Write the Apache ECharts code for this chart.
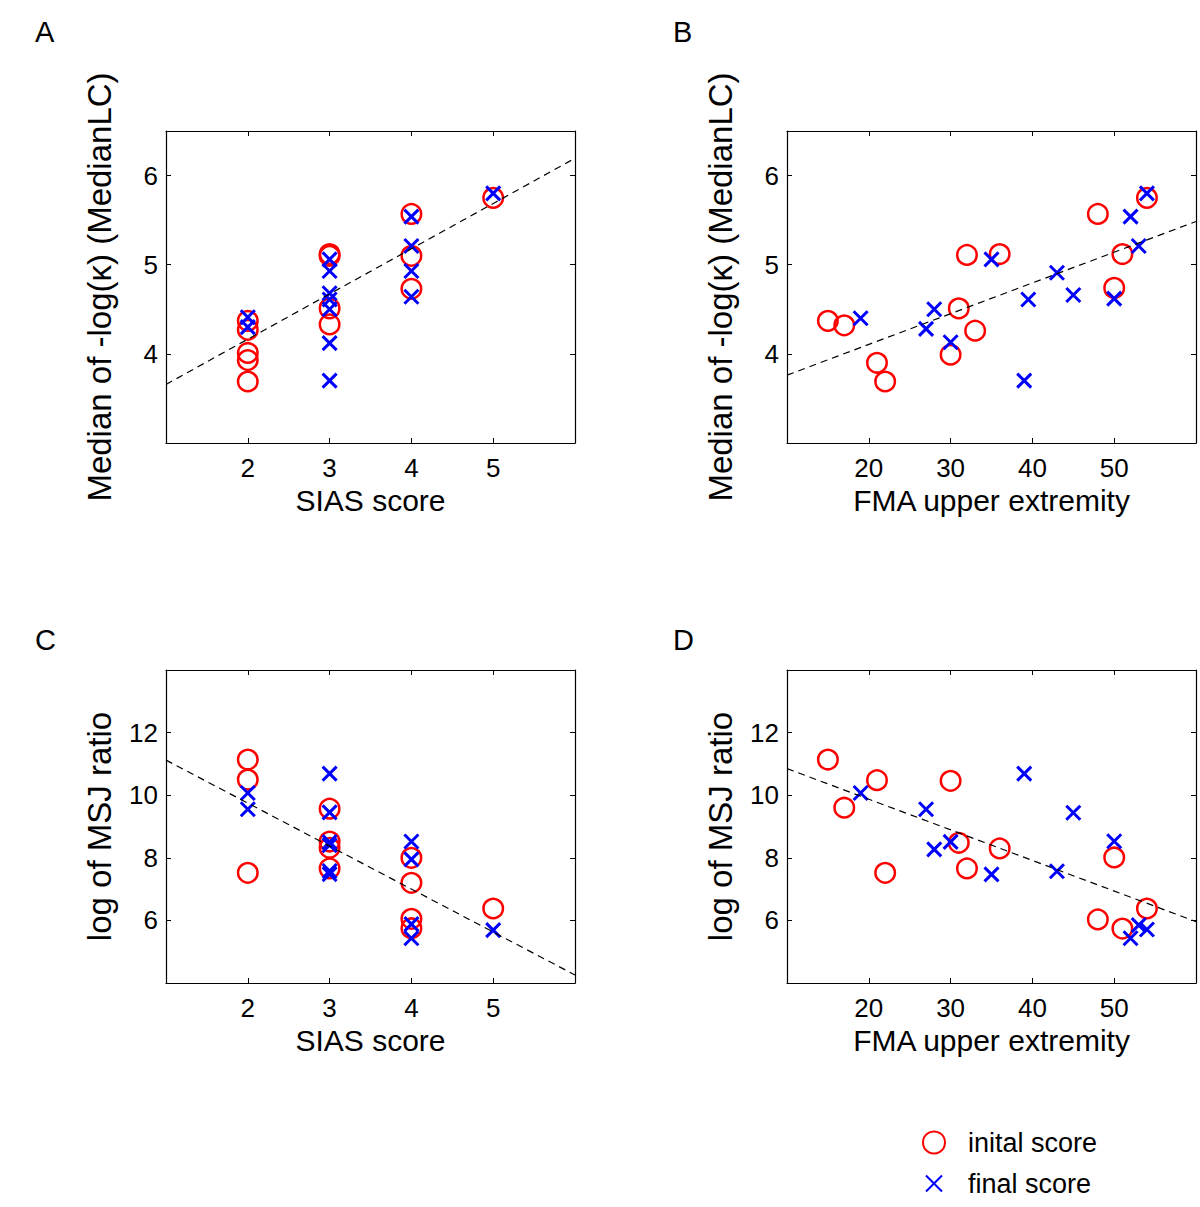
<!DOCTYPE html>
<html>
<head>
<meta charset="utf-8">
<script src="https://cdn.jsdelivr.net/npm/echarts@6/dist/echarts.min.js"></script>
<style>
html,body{margin:0;padding:0;background:#fff;}
#chart{width:1200px;height:1207px;}
</style>
</head>
<body>
<div id="chart"></div>
<script>
// ---------- data ----------
// Panel A: SIAS score vs median of -log(kappa)
const aInitX  = [2, 2, 2, 2, 2, 3, 3, 3, 3, 4, 4, 4, 5];
const aInitY  = [4.37, 4.27, 4.01, 3.93, 3.69, 5.12, 5.10, 4.51, 4.33, 5.57, 5.10, 4.73, 5.75];
const aFinalX = [2, 2, 3, 3, 3, 3, 3, 3, 3, 4, 4, 4, 4, 5];
const aFinalY = [4.41, 4.30, 5.06, 4.93, 4.68, 4.61, 4.50, 4.12, 3.70, 5.54, 5.21, 4.93, 4.64, 5.80];
const aFitX = [1, 6];
const aFitY = [3.657, 6.194];

// Panel B: FMA upper extremity vs median of -log(kappa)
const bInitX  = [15, 17, 21, 22, 30, 31, 32, 33, 36, 48, 50, 51, 54];
const bInitY  = [4.37, 4.32, 3.90, 3.69, 3.99, 4.51, 5.11, 4.26, 5.12, 5.57, 4.74, 5.12, 5.75];
const bFinalX = [19, 27, 28, 30, 35, 39, 39.5, 43, 45, 50, 52, 53, 54];
const bFinalY = [4.40, 4.28, 4.50, 4.13, 5.06, 3.70, 4.61, 4.91, 4.66, 4.62, 5.54, 5.21, 5.80];
const bFitX = [10, 60];
const bFitY = [3.761, 5.485];

// Panel C: SIAS score vs log of MSJ ratio
const cInitX  = [2, 2, 2, 3, 3, 3, 3, 4, 4, 4, 4, 5];
const cInitY  = [11.14, 10.50, 7.52, 9.57, 8.52, 8.32, 7.66, 8.00, 7.20, 6.05, 5.75, 6.38];
const cFinalX = [2, 2, 3, 3, 3, 3, 3, 3, 4, 4, 4, 4, 5];
const cFinalY = [10.07, 9.55, 10.69, 9.45, 8.50, 8.40, 7.58, 7.48, 8.52, 7.95, 5.88, 5.43, 5.69];
const cFitX = [1, 6];
const cFitY = [11.12, 4.255];

// Panel D: FMA upper extremity vs log of MSJ ratio
const dInitX  = [15, 17, 21, 22, 30, 31, 32, 36, 48, 50, 51, 54];
const dInitY  = [11.14, 9.60, 10.48, 7.52, 10.46, 8.48, 7.66, 8.30, 6.03, 8.01, 5.74, 6.38];
const dFinalX = [19, 27, 28, 30, 35, 39, 43, 45, 50, 52, 53, 54];
const dFinalY = [10.07, 9.55, 8.27, 8.51, 7.47, 10.69, 7.57, 9.44, 8.53, 5.43, 5.85, 5.71];
const dFitX = [10, 60];
const dFitY = [10.85, 5.96];

// axis settings
const panelLetters = ['A', 'B', 'C', 'D'];
const xNames = ['SIAS score', 'FMA upper extremity', 'SIAS score', 'FMA upper extremity'];
const yNames = ['Median of -log(\u03BA) (MedianLC)', 'Median of -log(\u03BA) (MedianLC)', 'log of MSJ ratio', 'log of MSJ ratio'];
const xRanges = [[1, 6, 1], [10, 60, 10], [1, 6, 1], [10, 60, 10]];
const yRanges = [[3, 6.5, 1], [3, 6.5, 1], [4, 14, 2], [4, 14, 2]];
const seriesNames = ['inital score', 'final score'];

// ---------- build ----------
const FONT = '"Liberation Sans", Arial, Helvetica, sans-serif';
const zip = (xs, ys) => xs.map((x, i) => [x, ys[i]]);
const panels = [
  {init: zip(aInitX, aInitY), fin: zip(aFinalX, aFinalY), fit: zip(aFitX, aFitY)},
  {init: zip(bInitX, bInitY), fin: zip(bFinalX, bFinalY), fit: zip(bFitX, bFitY)},
  {init: zip(cInitX, cInitY), fin: zip(cFinalX, cFinalY), fit: zip(cFitX, cFitY)},
  {init: zip(dInitX, dInitY), fin: zip(dFinalX, dFinalY), fit: zip(dFitX, dFitY)}
];

const grids = [
  {left: 166, top: 131, width: 409, height: 312},
  {left: 787, top: 131, width: 409, height: 312},
  {left: 166, top: 670, width: 409, height: 313},
  {left: 787, top: 670, width: 409, height: 313}
];
const letterPos = [[35, 17], [673, 17], [35, 625], [673, 625]];

const CROSS = 'path://M0,0L10,10M10,0L0,10';
const lineStyleAxis = {color: '#000', width: 1.2};
const xAxes = [], yAxes = [], series = [], titles = [];

grids.forEach((g, i) => {
  const [xmin, xmax, xint] = xRanges[i];
  const [ymin, ymax, yint] = yRanges[i];
  // bottom x axis
  xAxes.push({
    type: 'value', gridIndex: i, position: 'bottom', min: xmin, max: xmax, interval: xint,
    name: xNames[i], nameLocation: 'middle', nameGap: 42,
    nameTextStyle: {fontSize: 30, color: '#000', fontFamily: FONT},
    axisLine: {onZero: false, lineStyle: lineStyleAxis},
    axisTick: {inside: true, length: 5, lineStyle: {color: '#000', width: 1}},
    axisLabel: {fontSize: 26, color: '#000', fontFamily: FONT, margin: 12, showMinLabel: false, showMaxLabel: false},
    splitLine: {show: false}
  });
  // top x axis (box)
  xAxes.push({
    type: 'value', gridIndex: i, position: 'top', min: xmin, max: xmax, interval: xint,
    axisLine: {onZero: false, lineStyle: lineStyleAxis},
    axisTick: {inside: true, length: 5, lineStyle: {color: '#000', width: 1}},
    axisLabel: {show: false}, splitLine: {show: false}
  });
  // left y axis
  yAxes.push({
    type: 'value', gridIndex: i, position: 'left', min: ymin, max: ymax, interval: yint,
    name: yNames[i], nameLocation: 'middle', nameGap: 50,
    nameTextStyle: {fontSize: 33, color: '#000', fontFamily: FONT},
    axisLine: {onZero: false, lineStyle: lineStyleAxis},
    axisTick: {inside: true, length: 5, lineStyle: {color: '#000', width: 1}},
    axisLabel: {fontSize: 26, color: '#000', fontFamily: FONT, margin: 8, showMinLabel: false, showMaxLabel: false},
    splitLine: {show: false}
  });
  // right y axis (box)
  yAxes.push({
    type: 'value', gridIndex: i, position: 'right', min: ymin, max: ymax, interval: yint,
    axisLine: {onZero: false, lineStyle: lineStyleAxis},
    axisTick: {inside: true, length: 5, lineStyle: {color: '#000', width: 1}},
    axisLabel: {show: false}, splitLine: {show: false}
  });

  const p = panels[i];
  series.push({
    name: seriesNames[0], type: 'scatter', xAxisIndex: 2 * i, yAxisIndex: 2 * i,
    data: p.init, symbol: 'circle', symbolSize: 19.5,
    itemStyle: {color: 'rgba(0,0,0,0)', borderColor: '#ff0000', borderWidth: 2.5, opacity: 1},
    emphasis: {disabled: true}
  });
  series.push({
    name: seriesNames[1], type: 'scatter', xAxisIndex: 2 * i, yAxisIndex: 2 * i,
    data: p.fin, symbol: CROSS, symbolSize: 14, symbolKeepAspect: true,
    itemStyle: {color: 'rgba(0,0,0,0)', borderColor: '#0000ff', borderWidth: 3, opacity: 1},
    emphasis: {disabled: true}
  });
  series.push({
    name: 'fit', type: 'line', xAxisIndex: 2 * i, yAxisIndex: 2 * i,
    data: p.fit, showSymbol: false, symbol: 'none', silent: true,
    lineStyle: {color: '#000', width: 1.2, type: [7, 5]}
  });

  titles.push({
    text: panelLetters[i], left: letterPos[i][0], top: letterPos[i][1], padding: 0,
    textStyle: {fontSize: 29, fontWeight: 'normal', color: '#000', fontFamily: FONT}
  });
});

const option = {
  backgroundColor: '#fff',
  animation: false,
  title: titles,
  grid: grids,
  xAxis: xAxes,
  yAxis: yAxes,
  series: series,
  legend: [
    {
      data: [seriesNames[0]], orient: 'vertical', left: 922, top: 1129, padding: 0,
      itemWidth: 58, itemHeight: 22, selectedMode: false,
      textStyle: {fontSize: 27, color: '#000', fontFamily: FONT}
    },
    {
      data: [seriesNames[1]], orient: 'vertical', left: 925, top: 1170, padding: 0,
      itemWidth: 58, itemHeight: 16, selectedMode: false,
      textStyle: {fontSize: 27, color: '#000', fontFamily: FONT}
    }
  ]
};

const chart = echarts.init(document.getElementById('chart'), null, {renderer: 'svg'});
chart.setOption(option);
</script>
</body>
</html>
